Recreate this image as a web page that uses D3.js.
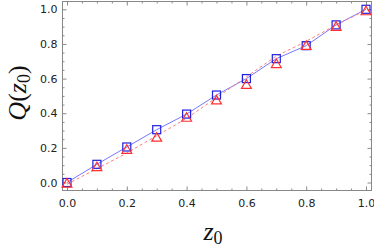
<!DOCTYPE html>
<html>
<head>
<meta charset="utf-8">
<script src="https://cdn.jsdelivr.net/npm/d3@7"></script>
<style>
  body { margin: 0; background: #fff; }
  .tick text { font-family: "DejaVu Sans", sans-serif; font-size: 11px; fill: #222; }
  .axis path, .axis line { stroke: #888; }
  .lbl { font-family: "Liberation Serif", serif; fill: #111; }
</style>
</head>
<body>
<svg width="374" height="250"></svg>
<script>
const z0 = [0, 0.1, 0.2, 0.3, 0.4, 0.5, 0.6, 0.7, 0.8, 0.9, 1.0];
const blueVals = [0.0, 0.105, 0.205, 0.305, 0.395, 0.505, 0.6, 0.715, 0.79, 0.91, 1.0];
const redVals = [-0.01, 0.085, 0.185, 0.255, 0.37, 0.47, 0.56, 0.68, 0.785, 0.895, 0.985];
const dashVals = [-0.01, 0.08, 0.17, 0.27, 0.37, 0.49, 0.61, 0.73, 0.815, 0.91, 0.995];
const majorTicks = [0, 0.2, 0.4, 0.6, 0.8, 1.0];
const minorTicks = d3.range(0, 21).map(i => i * 0.05);

const svg = d3.select("svg");

const x = d3.scaleLinear().domain([0, 1]).range([67, 366]);
const y = d3.scaleLinear().domain([0, 1]).range([182.5, 9.3]);
const fLeft = 62, fRight = 371, fTop = 1, fBottom = 190;

// frame
svg.append("rect")
  .attr("x", fLeft + 0.5).attr("y", fTop + 0.5)
  .attr("width", fRight - fLeft).attr("height", fBottom - fTop)
  .attr("fill", "none").attr("stroke", "#888");

const fmt = d3.format(".1f");

function frameAxis(axisFn, scale, values, size, labels, tr) {
  const g = svg.append("g").attr("class", "axis").attr("transform", tr)
    .call(axisFn(scale).tickValues(values).tickSizeInner(size).tickSizeOuter(0)
      .tickPadding(axisFn === d3.axisBottom ? 9 : 5)
      .tickFormat(labels ? fmt : ""));
  g.select(".domain").remove();
  return g;
}

const minorOnly = minorTicks.filter(v => !majorTicks.some(m => Math.abs(m - v) < 1e-9));

frameAxis(d3.axisBottom, x, majorTicks, -4, true, `translate(0,${fBottom + 0.5})`);
frameAxis(d3.axisBottom, x, minorOnly, -2, false, `translate(0,${fBottom + 0.5})`);
frameAxis(d3.axisTop, x, majorTicks, -4, false, `translate(0,${fTop + 0.5})`);
frameAxis(d3.axisTop, x, minorOnly, -2, false, `translate(0,${fTop + 0.5})`);
frameAxis(d3.axisLeft, y, majorTicks, -4, true, `translate(${fLeft + 0.5},0)`);
frameAxis(d3.axisLeft, y, minorOnly, -2, false, `translate(${fLeft + 0.5},0)`);
frameAxis(d3.axisRight, y, majorTicks, -4, false, `translate(${fRight + 0.5},0)`);
frameAxis(d3.axisRight, y, minorOnly, -2, false, `translate(${fRight + 0.5},0)`);

const line = d3.line().x(d => x(d[0])).y(d => y(d[1]));

svg.append("path")
  .datum(z0.map((v, i) => [v, blueVals[i]]))
  .attr("d", line)
  .attr("fill", "none").attr("stroke", "#7777ff").attr("stroke-width", 1);

svg.append("path")
  .datum(z0.map((v, i) => [v, dashVals[i]]))
  .attr("d", line)
  .attr("fill", "none").attr("stroke", "#ff8080").attr("stroke-width", 1)
  .attr("stroke-dasharray", "3,2.5");

svg.selectAll("rect.sq")
  .data(z0)
  .enter()
  .append("rect")
  .attr("class", "sq")
  .attr("x", (d) => x(d) - 4)
  .attr("y", (d, i) => y(blueVals[i]) - 4)
  .attr("width", 8).attr("height", 8)
  .attr("fill", "none").attr("stroke", "#2020e0").attr("stroke-width", 1.2);

svg.selectAll("path.tri")
  .data(z0)
  .enter()
  .append("path")
  .attr("class", "tri")
  .attr("d", d3.symbol().type(d3.symbolTriangle).size(42))
  .attr("transform", (d, i) => `translate(${x(d)},${y(redVals[i])})`)
  .attr("fill", "none").attr("stroke", "#ff3030").attr("stroke-width", 1.2);

// axis labels
const xl = svg.append("text").attr("class", "lbl")
  .attr("x", 213).attr("y", 240).attr("text-anchor", "middle");
xl.append("tspan").attr("font-style", "italic").attr("font-size", 26).text("z");
xl.append("tspan").attr("font-size", 18).attr("dy", 4).text("0");

const yl = svg.append("text").attr("class", "lbl")
  .attr("transform", "translate(26,93) rotate(-90)").attr("text-anchor", "middle");
yl.append("tspan").attr("font-style", "italic").attr("font-size", 26).text("Q");
yl.append("tspan").attr("font-size", 26).text("(");
yl.append("tspan").attr("font-style", "italic").attr("font-size", 26).text("z");
yl.append("tspan").attr("font-size", 18).attr("dy", 4).text("0");
yl.append("tspan").attr("font-size", 26).attr("dy", -4).text(")");
</script>
</body>
</html>
